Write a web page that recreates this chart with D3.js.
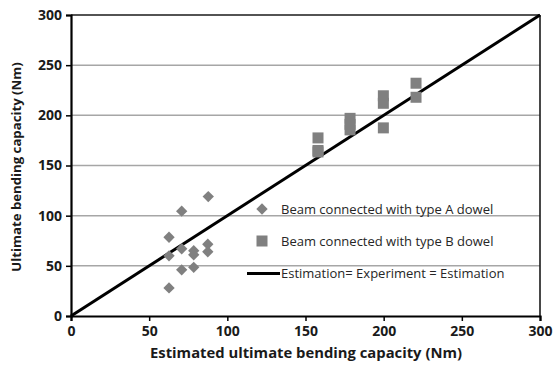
<!DOCTYPE html>
<html><head><meta charset="utf-8">
<script src="https://cdn.jsdelivr.net/npm/d3@7"></script>
<style>body{margin:0;background:#fff}svg{display:block}</style>
</head><body>
<svg id="c" width="553" height="370"></svg>
<script>
const xTicks = [0, 50, 100, 150, 200, 250, 300];
const yTicks = [0, 50, 100, 150, 200, 250, 300];
const typeAx = [87.8, 70.8, 62.7, 62.7, 62.7, 70.8, 70.8, 78.5, 78.5, 78.5, 87.5, 87.5];
const typeAy = [119, 104.5, 78.5, 60, 28, 67, 46, 65, 61, 48.5, 71.5, 64];
const typeBx = [158, 158, 158, 178.5, 178.5, 178.5, 199.8, 199.8, 199.8, 220.7, 220.7];
const typeBy = [177.5, 165, 163.5, 197, 191, 185.5, 219.5, 212, 187.5, 232, 218];
const lineX = [0, 300];
const legendLabels = ["Beam connected with type A dowel", "Beam connected with type B dowel", "Estimation= Experiment = Estimation"];
const xTitle = "Estimated ultimate bending capacity (Nm)";
const yTitle = "Ultimate bending capacity (Nm)";

const svg = d3.select("#c");
const x = d3.scaleLinear().domain([0, 300]).range([71, 540]);
const y = d3.scaleLinear().domain([0, 300]).range([316, 15]);
const font = "'Open Sans', sans-serif";
const markColor = "#808080";

// gridlines
svg.append("g").selectAll("line").data(yTicks.filter(d => d > 0 && d < 300)).join("line")
  .attr("x1", x(0)).attr("x2", x(300)).attr("y1", d => y(d)).attr("y2", d => y(d))
  .attr("stroke", "#a6a6a6").attr("stroke-width", 1.5);

// frame top/right
svg.append("line").attr("x1", x(0)).attr("x2", x(300)).attr("y1", y(300)).attr("y2", y(300)).attr("stroke", "#1a1a1a").attr("stroke-width", 1.6);
svg.append("line").attr("x1", x(300)).attr("x2", x(300)).attr("y1", y(300)).attr("y2", y(0)).attr("stroke", "#1a1a1a").attr("stroke-width", 1.6);

// axes
const xAxis = svg.append("g").attr("transform", `translate(0,${y(0)})`)
  .call(d3.axisBottom(x).tickValues(xTicks).tickSize(5).tickPadding(5).tickFormat(d3.format("d")));
const yAxis = svg.append("g").attr("transform", `translate(${x(0)},0)`)
  .call(d3.axisLeft(y).tickValues(yTicks).tickSize(5).tickPadding(4).tickFormat(d3.format("d")));
[xAxis, yAxis].forEach(g => {
  g.select(".domain").attr("stroke", "#000").attr("stroke-width", 2.2);
  g.selectAll(".tick line").attr("stroke", "#000").attr("stroke-width", 1.5);
  g.selectAll("text").attr("font-family", font).attr("font-weight", "bold").attr("font-size", 14).attr("fill", "#1a1a1a");
});
xAxis.selectAll("text").attr("dy", "0.71em");

// diagonal
svg.append("path").datum(lineX)
  .attr("d", d3.line().x(d => x(d)).y(d => y(d)))
  .attr("stroke", "#000").attr("stroke-width", 3).attr("fill", "none");

// markers
const diamond = d3.symbol().type(d3.symbolDiamond2).size(82);
svg.append("g").selectAll("path").data(typeAx.map((v, i) => [v, typeAy[i]])).join("path")
  .attr("d", diamond).attr("transform", d => `translate(${x(d[0])},${y(d[1])})`).attr("fill", markColor);
svg.append("g").selectAll("rect").data(typeBx.map((v, i) => [v, typeBy[i]])).join("rect")
  .attr("x", d => x(d[0]) - 5.5).attr("y", d => y(d[1]) - 5.5).attr("width", 11).attr("height", 11).attr("fill", markColor);

// legend
const lg = svg.append("g");
lg.append("path").attr("d", diamond).attr("transform", "translate(262,209)").attr("fill", markColor);
lg.append("rect").attr("x", 256.5).attr("y", 235.5).attr("width", 11).attr("height", 11).attr("fill", markColor);
lg.append("line").attr("x1", 247).attr("x2", 280).attr("y1", 273.5).attr("y2", 273.5).attr("stroke", "#000").attr("stroke-width", 3);
lg.selectAll("text").data(legendLabels).join("text")
  .attr("x", 281).attr("y", (d, i) => [213.5, 245.5, 278][i])
  .attr("font-family", font).attr("font-size", 13).attr("fill", "#262626").text(d => d);

// titles
svg.append("text").attr("x", 306).attr("y", 358).attr("text-anchor", "middle")
  .attr("font-family", font).attr("font-weight", "bold").attr("font-size", 14.8).attr("fill", "#1a1a1a").text(xTitle);
svg.append("text").attr("transform", "translate(21,167) rotate(-90)").attr("text-anchor", "middle")
  .attr("font-family", font).attr("font-weight", "bold").attr("font-size", 13.2).attr("fill", "#1a1a1a").text(yTitle);
</script>
</body></html>
